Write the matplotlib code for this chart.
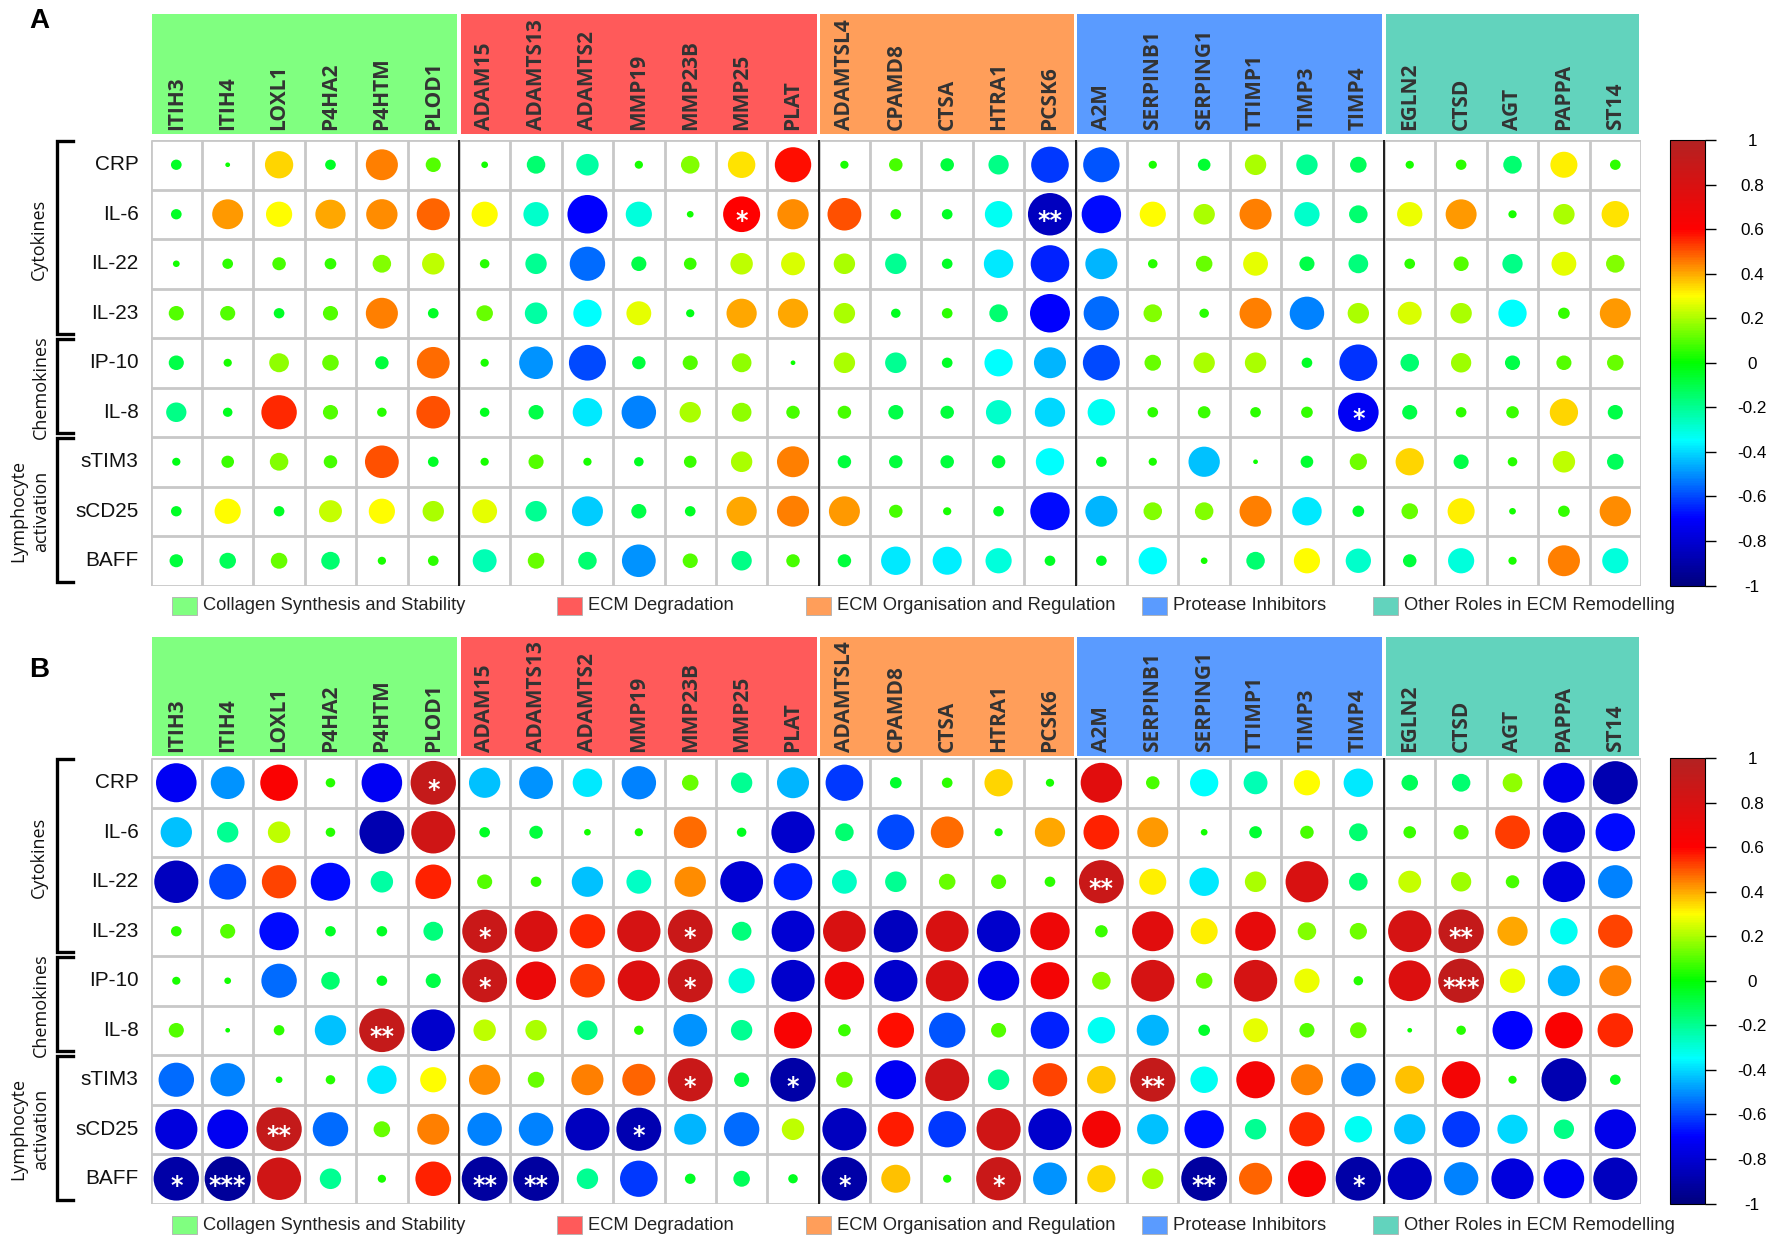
import numpy as np
import matplotlib
matplotlib.use("Agg")
import matplotlib.pyplot as plt
from matplotlib.collections import EllipseCollection
from matplotlib.colors import LinearSegmentedColormap, Normalize
from matplotlib.patches import Rectangle
from matplotlib import cm, font_manager, transforms

# ---- data ----
genes = ['ITIH3', 'ITIH4', 'LOXL1', 'P4HA2', 'P4HTM', 'PLOD1',
         'ADAM15', 'ADAMTS13', 'ADAMTS2', 'MMP19', 'MMP23B', 'MMP25', 'PLAT',
         'ADAMTSL4', 'CPAMD8', 'CTSA', 'HTRA1', 'PCSK6',
         'A2M', 'SERPINB1', 'SERPING1', 'TTIMP1', 'TIMP3', 'TIMP4',
         'EGLN2', 'CTSD', 'AGT', 'PAPPA', 'ST14']
group_names = ['Collagen Synthesis and Stability', 'ECM Degradation',
               'ECM Organisation and Regulation', 'Protease Inhibitors',
               'Other Roles in ECM Remodelling']
group_sizes = [6, 7, 5, 6, 5]
group_colors = ['#80FF80', '#FF5A5A', '#FF9E5A', '#5A9BFF', '#62D3BD']

analytes = ['CRP', 'IL-6', 'IL-22', 'IL-23', 'IP-10', 'IL-8', 'sTIM3', 'sCD25', 'BAFF']
analyte_groups = ['Cytokines', 'Chemokines', 'Lymphocyte\nactivation']
analyte_group_sizes = [4, 2, 3]

# panel A correlations (rows = analytes, cols = genes)
corr_a = [
    [-0.05, 0.01, 0.35, -0.05, 0.45, 0.10, 0.02, -0.15, -0.22, 0.03, 0.15, 0.33, 0.58, 0.03, 0.08, -0.08, -0.18, -0.62, -0.58, 0.03, -0.07, 0.20, -0.20, -0.12, 0.03, 0.05, -0.15, 0.32, 0.05],
    [-0.05, 0.42, 0.30, 0.40, 0.43, 0.48, 0.30, -0.28, -0.70, -0.30, 0.02, 0.60, 0.43, 0.50, 0.05, -0.05, -0.33, -0.85, -0.68, 0.30, 0.20, 0.45, -0.28, -0.15, 0.28, 0.42, 0.03, 0.20, 0.33],
    [0.02, 0.05, 0.08, 0.06, 0.15, 0.22, 0.04, -0.20, -0.55, -0.10, 0.07, 0.22, 0.25, 0.20, -0.20, -0.05, -0.38, -0.65, -0.45, 0.04, 0.12, 0.27, -0.10, -0.17, 0.05, 0.10, -0.18, 0.27, 0.15],
    [0.10, 0.10, -0.05, 0.10, 0.45, -0.05, 0.12, -0.22, -0.35, 0.27, -0.03, 0.40, 0.40, 0.20, -0.04, 0.05, -0.15, -0.70, -0.55, 0.15, 0.04, 0.45, -0.52, 0.20, 0.25, 0.20, -0.35, 0.06, 0.42],
    [-0.10, 0.03, 0.17, 0.12, -0.08, 0.47, 0.03, -0.50, -0.60, -0.08, 0.10, 0.17, 0.01, 0.20, -0.20, -0.05, -0.35, -0.45, -0.60, 0.12, 0.20, 0.20, -0.05, -0.63, -0.15, 0.18, -0.10, 0.10, 0.12],
    [-0.18, -0.04, 0.55, 0.10, 0.04, 0.50, -0.04, -0.10, -0.38, -0.52, 0.20, 0.17, 0.08, 0.08, -0.10, -0.08, -0.28, -0.40, -0.33, 0.05, 0.07, 0.05, 0.06, -0.72, -0.10, 0.05, 0.07, 0.35, -0.10],
    [-0.03, 0.07, 0.15, 0.08, 0.50, -0.05, 0.03, 0.10, 0.03, -0.04, 0.07, 0.20, 0.45, -0.08, -0.08, -0.08, -0.08, -0.35, -0.05, 0.03, -0.43, 0.01, -0.07, 0.13, 0.35, -0.10, 0.04, 0.22, -0.12],
    [-0.05, 0.30, -0.05, 0.23, 0.30, 0.20, 0.27, -0.20, -0.42, -0.10, -0.05, 0.40, 0.45, 0.42, 0.08, 0.03, -0.05, -0.68, -0.45, 0.15, 0.15, 0.45, -0.38, -0.06, 0.12, 0.32, 0.02, 0.06, 0.43],
    [-0.08, -0.12, 0.12, -0.15, 0.03, 0.05, -0.25, 0.12, -0.15, -0.50, 0.10, -0.18, 0.08, -0.08, -0.38, -0.37, -0.30, -0.05, -0.05, -0.35, 0.02, -0.15, 0.30, -0.28, -0.08, -0.30, 0.03, 0.45, -0.30],
]
stars_a = [('IL-6', 'MMP25', '*'), ('IL-6', 'PCSK6', '**'), ('IL-8', 'TIMP4', '*')]

# panel B correlations
corr_b = [
    [-0.72, -0.50, 0.62, 0.04, -0.72, 0.90, -0.43, -0.50, -0.38, -0.52, 0.12, -0.20, -0.45, -0.62, -0.06, 0.05, 0.35, 0.03, 0.75, 0.08, -0.35, -0.25, 0.30, -0.38, -0.12, -0.15, 0.17, -0.75, -0.88],
    [-0.43, -0.20, 0.22, 0.04, -0.88, 0.85, -0.05, -0.08, 0.02, 0.03, 0.47, -0.04, -0.82, -0.15, -0.60, 0.47, 0.03, 0.40, 0.56, 0.42, 0.02, -0.07, 0.08, -0.15, 0.07, 0.10, 0.53, -0.78, -0.68],
    [-0.85, -0.60, 0.52, -0.68, -0.22, 0.56, 0.10, 0.05, -0.43, -0.27, 0.43, -0.80, -0.65, -0.27, -0.20, 0.12, 0.10, 0.05, 0.88, 0.32, -0.38, 0.20, 0.80, -0.15, 0.23, 0.18, 0.08, -0.78, -0.52],
    [0.05, 0.10, -0.68, -0.05, -0.05, -0.17, 0.88, 0.80, 0.55, 0.82, 0.88, -0.17, -0.80, 0.80, -0.85, 0.80, -0.82, 0.68, 0.07, 0.75, 0.32, 0.72, 0.15, 0.13, 0.82, 0.90, 0.40, -0.33, 0.52],
    [0.03, 0.02, -0.55, -0.15, -0.05, -0.10, 0.88, 0.70, 0.53, 0.78, 0.88, -0.30, -0.82, 0.68, -0.82, 0.80, -0.75, 0.65, 0.15, 0.82, 0.12, 0.82, 0.28, 0.04, 0.78, 0.92, 0.28, -0.45, 0.45],
    [0.10, 0.01, 0.05, -0.43, 0.90, -0.82, 0.22, 0.20, -0.18, 0.04, -0.50, -0.20, 0.63, 0.07, 0.58, -0.58, 0.10, -0.65, -0.33, -0.45, -0.06, 0.27, 0.10, 0.12, 0.01, 0.04, -0.70, 0.62, 0.55],
    [-0.55, -0.52, 0.02, 0.04, -0.38, 0.30, 0.43, 0.12, 0.45, 0.48, 0.88, -0.10, -0.90, 0.12, -0.72, 0.85, -0.20, 0.52, 0.36, 0.90, -0.33, 0.65, 0.45, -0.52, 0.37, 0.65, 0.03, -0.88, -0.05],
    [-0.78, -0.73, 0.90, -0.55, 0.12, 0.45, -0.52, -0.52, -0.85, -0.88, -0.45, -0.55, 0.22, -0.85, 0.57, -0.62, 0.85, -0.82, 0.65, -0.43, -0.68, -0.20, 0.55, -0.33, -0.43, -0.62, -0.40, -0.18, -0.75],
    [-0.90, -0.93, 0.85, -0.20, 0.03, 0.56, -0.92, -0.92, -0.20, -0.62, -0.05, -0.12, -0.04, -0.90, 0.37, 0.03, 0.88, -0.50, 0.35, 0.20, -0.92, 0.48, 0.63, -0.90, -0.85, -0.52, -0.78, -0.72, -0.85],
]
stars_b = [('CRP', 'PLOD1', '*'), ('IL-22', 'A2M', '**'),
           ('IL-23', 'ADAM15', '*'), ('IL-23', 'MMP23B', '*'), ('IL-23', 'CTSD', '**'),
           ('IP-10', 'ADAM15', '*'), ('IP-10', 'MMP23B', '*'), ('IP-10', 'CTSD', '***'),
           ('IL-8', 'P4HTM', '**'),
           ('sTIM3', 'MMP23B', '*'), ('sTIM3', 'PLAT', '*'), ('sTIM3', 'SERPINB1', '**'),
           ('sCD25', 'LOXL1', '**'), ('sCD25', 'MMP19', '*'),
           ('BAFF', 'ITIH3', '*'), ('BAFF', 'ITIH4', '***'), ('BAFF', 'ADAM15', '**'),
           ('BAFF', 'ADAMTS13', '**'), ('BAFF', 'ADAMTSL4', '*'), ('BAFF', 'HTRA1', '*'),
           ('BAFF', 'SERPING1', '**'), ('BAFF', 'TIMP4', '*')]

# ---- style ----
W, H = 1772, 1243
installed = {f.name for f in font_manager.fontManager.ttflist}
if 'Liberation Sans Narrow' in installed:
    NARROW, NSCALE = 'Liberation Sans Narrow', 1.0
else:
    NARROW, NSCALE = 'Liberation Sans', 0.88   # shrink so widths still match
cmap = LinearSegmentedColormap.from_list('corr', [
    (0.0, '#00007F'), (0.15, '#0000FF'), (0.325, '#00FFFF'), (0.5, '#00FF00'),
    (0.65, '#FFFF00'), (0.8, '#FF0000'), (1.0, '#B22222')])
norm = Normalize(-1, 1)

GX0, GX1 = 150.6, 1641.0      # grid left / right (px)
ROW_H = 49.5
group_label_x = [-2.67, -2.63, -2.85]   # data x of rotated group labels


def fig_box(x0, y0, x1, y1):
    # pixel box (from top-left) -> figure fraction rect
    return [x0 / W, 1 - y1 / H, (x1 - x0) / W, (y1 - y0) / H]


fig = plt.figure(figsize=(W / 100, H / 100), dpi=100, facecolor='white')


def panel(corr, stars, top, head_top, head_bot, leg_y, letter, letter_y):
    nrow, ncol = len(analytes), len(genes)
    ax = fig.add_axes(fig_box(GX0, top, GX1, top + nrow * ROW_H))
    ax.set_xlim(-0.5, ncol - 0.5)
    ax.set_ylim(nrow - 0.5, -0.5)
    ax.axis('off')

    # cell grid
    ax.vlines(np.arange(-0.5, ncol), -0.5, nrow - 0.5, color='#c8c8c8', lw=2, zorder=1)
    ax.hlines(np.arange(-0.5, nrow), -0.5, ncol - 0.5, color='#c8c8c8', lw=2, zorder=1)
    ax.vlines(np.cumsum(group_sizes)[:-1] - 0.5, -0.5, nrow - 0.5, color='black', lw=1.2, zorder=2)

    # circles
    vals = np.array(corr)
    yy, xx = np.mgrid[0:nrow, 0:ncol]
    d = 0.93 * np.sqrt(np.abs(vals)).ravel()
    circ = EllipseCollection(d, d, np.zeros_like(d), units='xy',
                             offsets=np.column_stack([xx.ravel(), yy.ravel()]),
                             offset_transform=ax.transData, cmap=cmap, norm=norm,
                             linewidths=0, zorder=3)
    circ.set_array(vals.ravel())
    ax.add_collection(circ)

    star_tr = transforms.offset_copy(ax.transData, fig=fig, y=-10, units='points')
    for row, gene, s in stars:
        ax.text(genes.index(gene), analytes.index(row), s, transform=star_tr,
                color='white', fontsize=17, fontweight='bold', ha='center', va='baseline',
                family='DejaVu Sans', zorder=4)

    # row labels
    for i, name in enumerate(analytes):
        ax.text(-0.73, i, name, ha='right', va='center', fontsize=17 * NSCALE,
                family=NARROW, color='#111111')

    # brackets and group labels
    r0 = 0
    for name, n, lx in zip(analyte_groups, analyte_group_sizes, group_label_x):
        y0, y1 = r0 - 0.47, r0 + n - 0.58
        ax.plot([-2.01, -2.32, -2.32, -2.01], [y0, y0, y1, y1], color='black', lw=2.4,
                clip_on=False, solid_joinstyle='miter')
        ax.text(lx, r0 + (n - 1) / 2, name, rotation=90, ha='center', va='center',
                fontsize=13, family='Open Sans', linespacing=1.35, color='#111111')
        r0 += n

    # gene header boxes
    hx = fig.add_axes(fig_box(GX0, head_top, GX1, head_bot))
    hx.set_xlim(-0.5, ncol - 0.5)
    hx.set_ylim(0, 1)
    hx.axis('off')
    c0 = 0
    for n, col in zip(group_sizes, group_colors):
        hx.add_patch(Rectangle((c0 - 0.47, 0), n - 0.06, 1, facecolor=col, lw=0))
        c0 += n
    for i, g in enumerate(genes):
        hx.text(i, 0.03, g, rotation=90, ha='center', va='bottom', fontsize=15,
                fontweight='bold', family='Open Sans', color='#333333')

    # colour bar
    cax = fig.add_axes(fig_box(1670, top, 1705, top + nrow * ROW_H))
    ticks = np.arange(-1, 1.01, 0.2)
    cb = fig.colorbar(cm.ScalarMappable(norm=norm, cmap=cmap), cax=cax, ticks=ticks)
    cb.ax.set_yticklabels([f'{round(t, 1) + 0:g}' for t in ticks], family=NARROW,
                          fontsize=14 * NSCALE)
    cb.ax.tick_params(length=8, width=1, pad=26)
    for lab in cb.ax.get_yticklabels():
        lab.set_horizontalalignment('center')
    cb.outline.set_linewidth(0.8)

    # legend of gene groups
    patch_x = [172, 557, 806, 1142, 1373]
    for px, name, col in zip(patch_x, group_names, group_colors):
        fig.add_artist(Rectangle((px / W, 1 - (leg_y + 9) / H), 25 / W, 18 / H,
                                 facecolor=col, edgecolor='#b0b0b0', lw=0.6,
                                 transform=fig.transFigure))
        fig.text((px + 31) / W, 1 - leg_y / H, name, ha='left', va='center',
                 fontsize=15 * NSCALE, family=NARROW, color='#222222')

    fig.text(29 / W, 1 - letter_y / H, letter, ha='left', va='top', fontsize=20,
             fontweight='bold', family=NARROW)


panel(corr_a, stars_a, 140.0, 14, 134, 606, 'A', 8)
panel(corr_b, stars_b, 758.0, 637, 756, 1225, 'B', 657)

fig.savefig('out.png', dpi=100, facecolor='white')
